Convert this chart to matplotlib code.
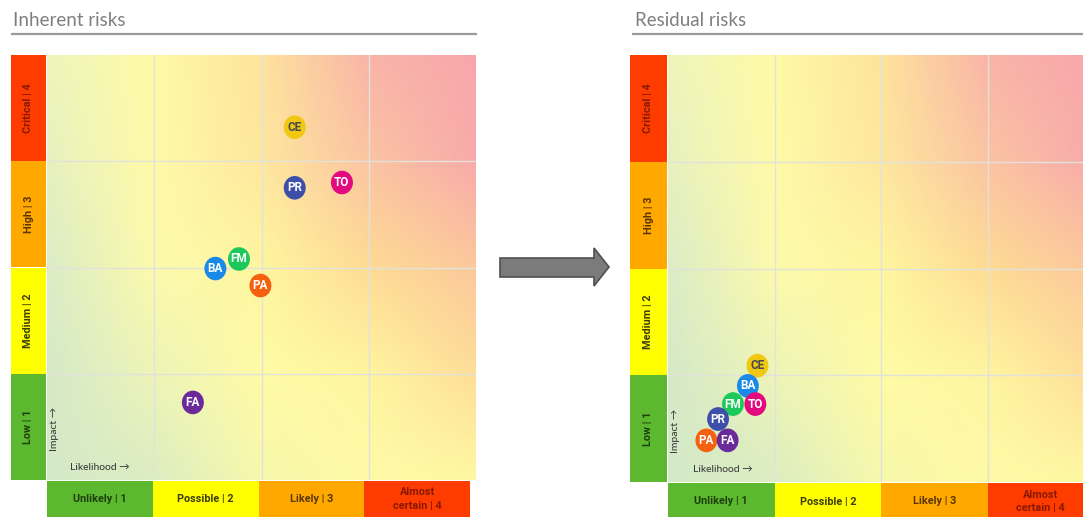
import matplotlib
matplotlib.use("Agg")
import matplotlib.pyplot as plt
from matplotlib.patches import Rectangle, Ellipse, Polygon
from matplotlib.colors import to_rgb
import numpy as np

W, H = 1083, 517

# ---- chart content -------------------------------------------------------
impact_labels = ["Low | 1", "Medium | 2", "High | 3", "Critical | 4"]
likelihood_labels = ["Unlikely | 1", "Possible | 2", "Likely | 3", "Almost\ncertain | 4"]
level_colors = ["#5cb82e", "#ffff00", "#ffa800", "#ff3c00"]
level_text_colors = ["#1d3f0c", "#3d3d00", "#5a3600", "#8a1800"]

risk_codes = ["CE", "PR", "TO", "FM", "BA", "PA", "FA"]
risk_colors = ["#f0c814", "#3d4fa8", "#e3097f", "#1dc85a", "#1a8ae8", "#f5620f", "#6a2a9a"]
risk_text_colors = ["#4a4a4a", "white", "white", "white", "white", "white", "white"]

inherent_likelihood = [2.31, 2.31, 2.75, 1.79, 1.57, 1.99, 1.36]
inherent_impact = [3.32, 2.75, 2.80, 2.08, 1.99, 1.83, 0.73]

residual_likelihood = [0.84, 0.47, 0.82, 0.61, 0.75, 0.36, 0.56]
residual_impact = [1.09, 0.59, 0.73, 0.73, 0.90, 0.39, 0.39]

# heat background: colours at integer grid corners, rows = impact 0..4
heat_corners = [
    ["#d3e9c8", "#dcedc2", "#f6f8ac", "#fffaa6", "#fff8a2"],
    ["#d5e9c8", "#edf4b8", "#fffba6", "#fff5a0", "#fedd98"],
    ["#dbecc6", "#fcfaac", "#fff6a0", "#fedb94", "#fcc89c"],
    ["#e7f1c0", "#fffaa8", "#fee79e", "#fbc4a2", "#f8aaaa"],
    ["#eef5bc", "#fffaa6", "#fee39c", "#f9b4a8", "#f8a6ac"],
]

FONT = ["Lato", "DejaVu Sans"]
BOLD = ["Roboto", "DejaVu Sans"]

fig = plt.figure(figsize=(W / 100, H / 100), dpi=100)
fig.patch.set_facecolor("white")


def px_axes(x0, y0, x1, y1, **kw):
    return fig.add_axes([x0 / W, 1 - y1 / H, (x1 - x0) / W, (y1 - y0) / H], **kw)


# overlay in pixel units for titles, rules and the arrow
overlay = px_axes(0, 0, W, H)
overlay.set_xlim(0, W)
overlay.set_ylim(H, 0)
overlay.axis("off")


def draw_panel(title, title_x, rule_x0, rule_x1, strip_x0, map_x0, map_x1,
               map_y0, map_y1, col_y0, col_y1, col_x1, xs, ys, imp_xy, lik_xy):
    overlay.text(title_x, 20, title, fontsize=13.5, color="#7f7f7f",
                 family=FONT, ha="left", va="center")
    overlay.plot([rule_x0, rule_x1], [34, 34], color="#9a9a9a", lw=1.6,
                 solid_capstyle="butt")

    # heat map
    ax = px_axes(map_x0, map_y0, map_x1, map_y1)
    rgb = np.array([[to_rgb(c) for c in row] for row in heat_corners])
    ax.imshow(rgb, origin="lower", extent=(-0.5, 4.5, -0.5, 4.5),
              interpolation="bilinear", aspect="auto", zorder=0)
    ax.set_xlim(0, 4)
    ax.set_ylim(0, 4)
    for k in (1, 2, 3):
        ax.axvline(k, color="#e2e2dc", lw=1.0, zorder=1)
        ax.axhline(k, color="#e2e2dc", lw=1.0, zorder=1)
    ax.set_xticks([])
    ax.set_yticks([])
    for s in ax.spines.values():
        s.set_visible(False)

    # bubbles: draw top ones first so lower ones overlap them
    order = sorted(range(len(risk_codes)), key=lambda i: -ys[i])
    for i in order:
        ax.add_patch(Ellipse((xs[i], ys[i]), 0.205, 0.222,
                             facecolor=risk_colors[i], edgecolor="none", zorder=3))
        ax.text(xs[i], ys[i], risk_codes[i], color=risk_text_colors[i],
                fontsize=8.5, fontweight="bold", family=BOLD,
                ha="center", va="center", zorder=4)

    ax.text(*imp_xy, "Impact \u2192", transform=ax.transAxes, rotation=90,
            fontsize=7.5, color="#333333", family=FONT, ha="center", va="center")
    ax.text(*lik_xy, "Likelihood \u2192", transform=ax.transAxes,
            fontsize=7.5, color="#333333", family=FONT, ha="left", va="center")

    # impact strip
    sa = px_axes(strip_x0, map_y0, map_x0 - 1, map_y1)
    sa.set_xlim(0, 1)
    sa.set_ylim(0, 4)
    sa.axis("off")
    for k, lab in enumerate(impact_labels):
        sa.add_patch(Rectangle((0, k), 1, 1, facecolor=level_colors[k],
                               edgecolor="none"))
        sa.text(0.5, k + 0.5, lab, rotation=90, fontsize=7.8, fontweight="bold",
                color=level_text_colors[k], family=BOLD,
                ha="center", va="center")

    # likelihood strip
    ca = px_axes(map_x0, col_y0, col_x1, col_y1)
    ca.set_xlim(0, 4)
    ca.set_ylim(0, 1)
    ca.axis("off")
    for k, lab in enumerate(likelihood_labels):
        ca.add_patch(Rectangle((k, 0), 1, 1, facecolor=level_colors[k],
                               edgecolor="none"))
        ca.text(k + 0.5, 0.5, lab, fontsize=7.8, fontweight="bold",
                color=level_text_colors[k], family=BOLD,
                ha="center", va="center", linespacing=1.45)
    return ax


draw_panel("Inherent risks", 13, 11, 477, 11, 47, 476, 55, 480,
           481, 517, 470, inherent_likelihood, inherent_impact,
           (0.018, 0.12), (0.053, 0.03))

draw_panel("Residual risks", 635, 632, W, 630, 668, 1094, 55, 482,
           483, 520, 1094, residual_likelihood, residual_impact,
           (0.018, 0.12), (0.058, 0.03))

# block arrow between the panels
arrow = Polygon([(500, 258), (594, 258), (594, 248), (609, 267),
                 (594, 286), (594, 277), (500, 277)], closed=True,
                facecolor="#7b7b7b", edgecolor="#505050", lw=1.2)
overlay.add_patch(arrow)

fig.savefig("out.png", dpi=100, facecolor="white")
